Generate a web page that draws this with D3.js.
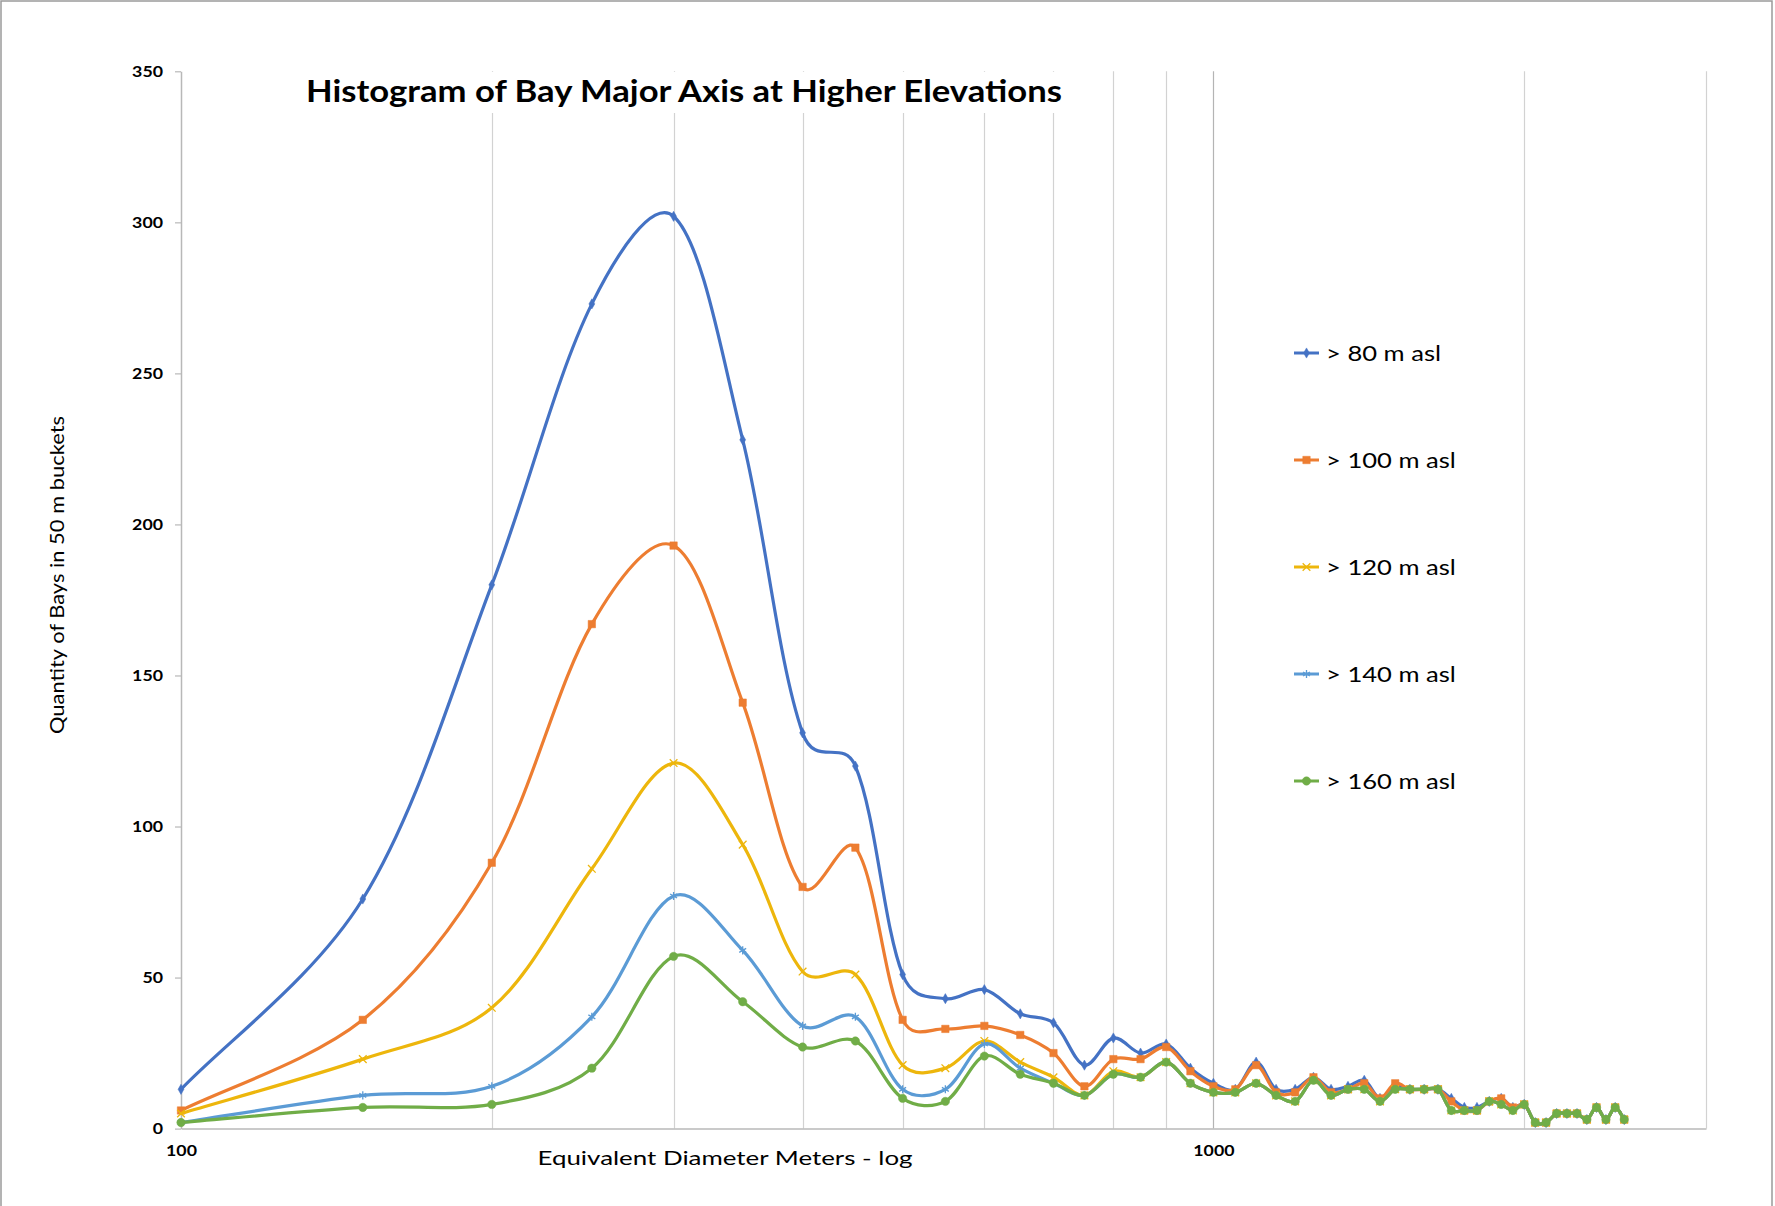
<!DOCTYPE html>
<html>
<head>
<meta charset="utf-8">
<script src="https://cdn.jsdelivr.net/npm/d3@7"></script>
<style>
  html, body { margin: 0; padding: 0; background: #fff; }
  svg { display: block; font-family: Lato, "Open Sans", sans-serif; }
</style>
</head>
<body>
<svg id="chart" width="1775" height="1206"></svg>
<script>
// Bucket centres (equivalent diameter, metres) — 50 m buckets
const diameters = [100, 150, 200, 250, 300, 350, 400, 450, 500, 550, 600, 650, 700, 750, 800, 850, 900, 950,
  1000, 1050, 1100, 1150, 1200, 1250, 1300, 1350, 1400, 1450, 1500, 1550, 1600, 1650, 1700, 1750, 1800, 1850,
  1900, 1950, 2000, 2050, 2100, 2150, 2200, 2250, 2300, 2350, 2400, 2450, 2500];

// Bay counts per bucket for each elevation threshold
const above80 = [13, 76, 180, 273, 302, 228, 131, 120, 51, 43, 46, 38, 35, 21, 30, 25, 28, 20,
  15, 13, 22, 13, 13, 17, 13, 14, 16, 10, 14, 13, 13, 13, 10, 7, 7, 9,
  10, 7, 8, 2, 2, 5, 5, 5, 3, 7, 3, 7, 3];
const above100 = [6, 36, 88, 167, 193, 141, 80, 93, 36, 33, 34, 31, 25, 14, 23, 23, 27, 19,
  14, 13, 21, 12, 12, 17, 12, 13, 15, 10, 15, 13, 13, 13, 9, 6, 6, 9,
  10, 7, 8, 2, 2, 5, 5, 5, 3, 7, 3, 7, 3];
const above120 = [5, 23, 40, 86, 121, 94, 52, 51, 21, 20, 29, 22, 17, 11, 19, 17, 22, 15,
  12, 12, 15, 11, 9, 16, 11, 13, 13, 9, 13, 13, 13, 13, 6, 6, 6, 9,
  8, 6, 8, 2, 2, 5, 5, 5, 3, 7, 3, 7, 3];
const above140 = [2, 11, 14, 37, 77, 59, 34, 37, 13, 13, 28, 20, 15, 11, 18, 17, 22, 15,
  12, 12, 15, 11, 9, 16, 11, 13, 13, 9, 13, 13, 13, 13, 6, 6, 6, 9,
  8, 6, 8, 2, 2, 5, 5, 5, 3, 7, 3, 7, 3];
const above160 = [2, 7, 8, 20, 57, 42, 27, 29, 10, 9, 24, 18, 15, 11, 18, 17, 22, 15,
  12, 12, 15, 11, 9, 16, 11, 13, 13, 9, 13, 13, 13, 13, 6, 6, 6, 9,
  8, 6, 8, 2, 2, 5, 5, 5, 3, 7, 3, 7, 3];

const seriesNames = ["> 80 m asl", "> 100 m asl", "> 120 m asl", "> 140 m asl", "> 160 m asl"];
const seriesValues = [above80, above100, above120, above140, above160];

const yTicks = [0, 50, 100, 150, 200, 250, 300, 350];
const xTickLabels = [100, 1000];
const xGridValues = [200, 300, 400, 500, 600, 700, 800, 900, 1000, 2000, 3000];

const titleText = "Histogram of Bay Major Axis at Higher Elevations";
const xTitleText = "Equivalent Diameter Meters - log";
const yTitleText = "Quantity of Bays in 50 m buckets";

// Look of each series: colour and marker glyph
const seriesStyle = [
  { color: "#4472C4", symbol: d3.symbolDiamond, size: 30, filled: true },
  { color: "#ED7D31", symbol: d3.symbolSquare, size: 55, filled: true },
  { color: "#EDB60C", symbol: d3.symbolTimes, size: 40, filled: false },
  { color: "#5B9BD5", symbol: d3.symbolAsterisk, size: 45, filled: false },
  { color: "#70AD47", symbol: d3.symbolCircle, size: 55, filled: true }
];

// Smoothed-line curve: cubic Bézier through every point, tangent along the
// neighbour chord; arm length mixes the uniform 1/6 rule with a
// segment-length-weighted rule so short hops don't overshoot.
function SmoothChord(context) { this._context = context; }
SmoothChord.prototype = {
  areaStart() { this._line = 0; },
  areaEnd() { this._line = NaN; },
  lineStart() { this._pts = []; },
  point(px, py) { this._pts.push([+px, +py]); },
  lineEnd() {
    const p = this._pts, n = p.length, c = this._context;
    if (!n) return;
    c.moveTo(p[0][0], p[0][1]);
    if (n === 1) return;
    const dist = (a, b) => Math.hypot(b[0] - a[0], b[1] - a[1]);
    const arm = (dNear, dFar) => {
      const weighted = (dNear + dFar) > 0 ? dNear / (dNear + dFar) / 3 : 0;
      return 0.5 * (1 / 6) + 0.5 * weighted;
    };
    for (let i = 0; i < n - 1; i++) {
      const P0 = p[Math.max(i - 1, 0)], P1 = p[i], P2 = p[i + 1], P3 = p[Math.min(i + 2, n - 1)];
      const d01 = dist(P0, P1), d12 = dist(P1, P2), d23 = dist(P2, P3);
      const f1 = arm(d12, d01);
      const f2 = arm(d12, d23);
      const c1x = P1[0] + (P2[0] - P0[0]) * f1, c1y = P1[1] + (P2[1] - P0[1]) * f1;
      const c2x = P2[0] - (P3[0] - P1[0]) * f2, c2y = P2[1] - (P3[1] - P1[1]) * f2;
      c.bezierCurveTo(c1x, c1y, c2x, c2y, P2[0], P2[1]);
    }
  }
};
const curveSmoothChord = ctx => new SmoothChord(ctx);

const svg = d3.select("#chart");
const W = 1775, H = 1206;

// page frame (top, left, right edges)
svg.append("path")
  .attr("d", `M1,${H} L1,1 L${W - 3},1 L${W - 3},${H}`)
  .attr("fill", "none").attr("stroke", "#9a9a9a").attr("stroke-width", 1.5);

const x = d3.scaleLog().domain([100, 3000]).range([181, 1706]);
const y = d3.scaleLinear().domain([0, 350]).range([1128.6, 71.3]);

// vertical gridlines
svg.append("g").selectAll("line").data(xGridValues).join("line")
  .attr("x1", d => Math.round(x(d)) + 0.5).attr("x2", d => Math.round(x(d)) + 0.5)
  .attr("y1", y(350)).attr("y2", y(0))
  .attr("stroke", d => d === 1000 ? "#b4b4b4" : "#d2d2d2").attr("stroke-width", 1.2);

// y axis
const yAxis = svg.append("g").attr("transform", `translate(${x(100)},0)`)
  .call(d3.axisLeft(y).tickValues(yTicks).tickSize(6).tickSizeOuter(0).tickPadding(12));
yAxis.select(".domain").attr("stroke", "#b8b8b8").attr("stroke-width", 1.5);
yAxis.selectAll(".tick line").attr("stroke", "#b8b8b8").attr("stroke-width", 1.2);
yAxis.selectAll(".tick text").attr("font-family", "Lato, sans-serif").attr("font-weight", 700)
  .attr("font-size", 16).attr("fill", "#000")
  .attr("textLength", d => String(d).length * 10.3).attr("lengthAdjust", "spacingAndGlyphs");

// x axis
const xAxis = svg.append("g").attr("transform", `translate(0,${y(0)})`)
  .call(d3.axisBottom(x).tickValues(xTickLabels).tickFormat(d3.format("d")).tickSize(0).tickPadding(16));
xAxis.select(".domain").attr("stroke", "#b8b8b8").attr("stroke-width", 1.5);
xAxis.selectAll(".tick text").attr("font-family", "Lato, sans-serif").attr("font-weight", 700)
  .attr("font-size", 16).attr("fill", "#000")
  .attr("textLength", d => String(d).length * 10.3).attr("lengthAdjust", "spacingAndGlyphs");

// title with its own white box over the gridlines
svg.append("rect").attr("x", 290).attr("y", 72).attr("width", 800).attr("height", 41).attr("fill", "#fff");
svg.append("text").attr("x", 306).attr("y", 102)
  .attr("font-family", "Lato, sans-serif").attr("font-weight", 700).attr("font-size", 30)
  .attr("textLength", 756).attr("lengthAdjust", "spacingAndGlyphs")
  .text(titleText);

// axis titles
svg.append("text").attr("x", 725).attr("y", 1165).attr("text-anchor", "middle")
  .attr("font-size", 20).attr("textLength", 375).attr("lengthAdjust", "spacingAndGlyphs")
  .text(xTitleText);
svg.append("text").attr("transform", "translate(64,575) rotate(-90)").attr("text-anchor", "middle")
  .attr("font-size", 20).attr("textLength", 318).attr("lengthAdjust", "spacingAndGlyphs")
  .text(yTitleText);

// series lines + markers
const line = d3.line()
  .x(d => x(d[0])).y(d => y(d[1]))
  .curve(curveSmoothChord);

seriesValues.forEach((vals, i) => {
  const st = seriesStyle[i];
  const pts = diameters.map((d, k) => [d, vals[k]]);
  const g = svg.append("g");
  g.append("path").datum(pts).attr("d", line)
    .attr("fill", "none").attr("stroke", st.color).attr("stroke-width", 3.2)
    .attr("stroke-linejoin", "round").attr("stroke-linecap", "round");
  const sym = d3.symbol().type(st.symbol).size(st.size);
  g.selectAll("path.m").data(pts).join("path").attr("class", "m")
    .attr("transform", d => `translate(${x(d[0])},${y(d[1])})`)
    .attr("d", sym)
    .attr("fill", st.filled ? st.color : "none")
    .attr("stroke", st.color).attr("stroke-width", st.filled ? 0.5 : 1.3);
});

// legend
const legendX = 1294, legendY0 = 353, legendStep = 107;
const legend = svg.append("g");
seriesNames.forEach((name, i) => {
  const st = seriesStyle[i];
  const gy = legendY0 + i * legendStep;
  const g = legend.append("g").attr("transform", `translate(${legendX},${gy})`);
  g.append("line").attr("x1", 0).attr("x2", 25).attr("y1", 0).attr("y2", 0)
    .attr("stroke", st.color).attr("stroke-width", 3);
  g.append("path").attr("transform", "translate(12.5,0)")
    .attr("d", d3.symbol().type(st.symbol).size(st.size))
    .attr("fill", st.filled ? st.color : "none")
    .attr("stroke", st.color).attr("stroke-width", st.filled ? 0.5 : 1.3);
  g.append("text").attr("x", 32).attr("y", 0).attr("dy", "0.36em")
    .attr("font-size", 21).attr("fill", "#000").text(name);
});
// widen legend labels slightly to the chart's label metrics
const legendTexts = legend.selectAll("text");
const firstW = legendTexts.node().getComputedTextLength();
const stretch = 115 / firstW;
legendTexts.each(function () {
  const w = this.getComputedTextLength();
  d3.select(this).attr("textLength", w * stretch).attr("lengthAdjust", "spacingAndGlyphs");
});
</script>
</body>
</html>
